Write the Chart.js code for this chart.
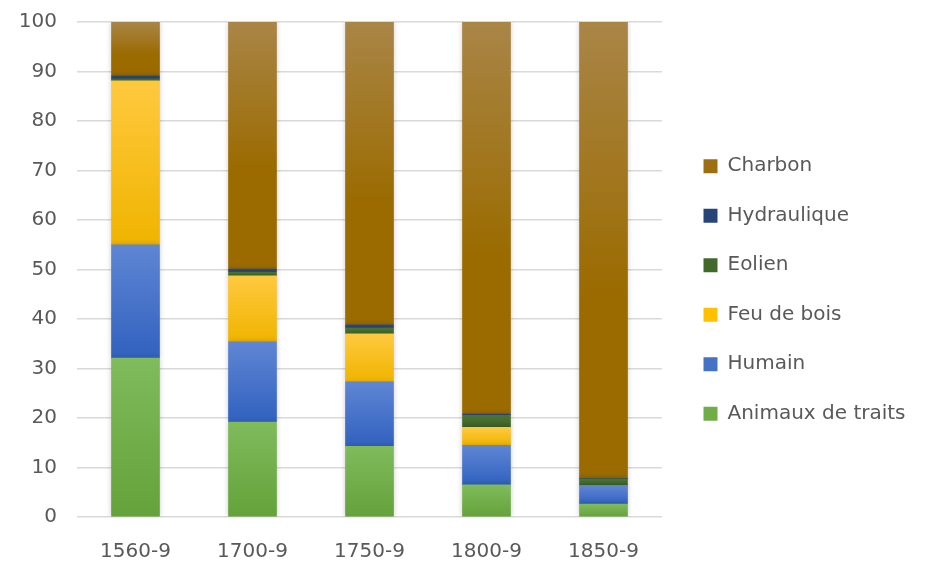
<!DOCTYPE html>
<html>
<head>
<meta charset="utf-8">
<script src="https://cdn.jsdelivr.net/npm/chart.js@4.4.0/dist/chart.umd.min.js"></script>
<style>
  body { margin: 0; background: #fff; }
</style>
</head>
<body>
<canvas id="chart" width="930" height="566"></canvas>
<script>
// Périodes et parts (%) de chaque source d'énergie
const categories = ["1560-9", "1700-9", "1750-9", "1800-9", "1850-9"];
const animaux = [32.1, 19.2, 14.3, 6.5, 2.6];
const humain = [22.9, 16.2, 13.0, 8.0, 3.7];
const feuDeBois = [33.1, 13.3, 9.7, 3.6, 0];
const eolien = [0.4, 0.8, 1.2, 2.4, 1.4];
const hydraulique = [0.7, 0.6, 0.6, 0.3, 0.1];
const charbon = [10.8, 49.9, 61.2, 79.2, 92.2];
const yTicks = [0, 10, 20, 30, 40, 50, 60, 70, 80, 90, 100];

const series = [
  { label: "Animaux de traits", data: animaux, top: "#80bb5c", bottom: "#64a23a", mid: "#70ad47", stop: 1 },
  { label: "Humain", data: humain, top: "#5f86d4", bottom: "#3161bf", mid: "#4472c4", stop: 1 },
  { label: "Feu de bois", data: feuDeBois, top: "#ffc93f", bottom: "#f0b400", mid: "#ffc000", stop: 1 },
  { label: "Eolien", data: eolien, top: "#4d7434", bottom: "#3b6124", mid: "#43682b", stop: 1 },
  { label: "Hydraulique", data: hydraulique, top: "#2f4f88", bottom: "#1f3c70", mid: "#264478", stop: 1 },
  { label: "Charbon", data: charbon, top: "#a98547", bottom: "#9b6b00", mid: "#9e6f10", stop: 0.6 }
];

// dégradé vertical par segment, comme dans Excel
function segmentGradient(ctx, idx) {
  const s = series[idx];
  const chart = ctx.chart;
  if (!chart.chartArea || ctx.dataIndex === undefined) return s.mid;
  let start = 0;
  for (let k = 0; k < idx; k++) start += series[k].data[ctx.dataIndex];
  const y = chart.scales.y;
  const y0 = y.getPixelForValue(start);
  const y1 = y.getPixelForValue(start + s.data[ctx.dataIndex]);
  if (Math.abs(y0 - y1) < 1) return s.mid;
  const g = chart.ctx.createLinearGradient(0, y1, 0, y0);
  g.addColorStop(0, s.top);
  g.addColorStop(s.stop, s.bottom);
  if (s.stop < 1) g.addColorStop(1, s.bottom);
  return g;
}

const datasets = series.map((s, i) => ({
  label: s.label,
  data: s.data,
  backgroundColor: ctx => segmentGradient(ctx, i),
  borderWidth: 0,
  barThickness: 48
}));

const font = "'DejaVu Sans', sans-serif";

// légende à largeur fixe, items décalés pour laisser un espace après le graphique
const legendPlace = {
  id: "legendPlace",
  beforeInit(chart) {
    const legend = chart.legend;
    const fit = legend.fit;
    legend.fit = function () {
      fit.call(this);
      this.width = 268;
    };
  },
  afterLayout(chart) {
    chart.legend.left += 12;
    chart.legend.top -= 4;
    chart.legend.bottom -= 4;
  }
};

// ombre légère autour des barres
const barShadow = {
  id: "barShadow",
  beforeDatasetsDraw(chart) {
    const c = chart.ctx;
    c.save();
    c.shadowColor = "rgba(0,0,0,0.2)";
    c.shadowBlur = 5;
  },
  afterDatasetsDraw(chart) {
    chart.ctx.restore();
  }
};

new Chart(document.getElementById("chart"), {
  type: "bar",
  data: { labels: categories, datasets: datasets },
  plugins: [legendPlace, barShadow],
  options: {
    responsive: false,
    animation: false,
    layout: { padding: { left: 0, top: 22, right: 0, bottom: 0 } },
    scales: {
      x: {
        stacked: true,
        grid: { display: false },
        border: { display: false },
        ticks: { color: "#595959", font: { family: font, size: 20 }, padding: 15 },
        afterFit: axis => { axis.height = 49; }
      },
      y: {
        stacked: true,
        min: 0,
        max: 100,
        afterBuildTicks: axis => { axis.ticks = yTicks.map(v => ({ value: v })); },
        grid: { color: "#d9d9d9", lineWidth: 1.5, drawTicks: false },
        border: { display: false },
        ticks: { color: "#595959", font: { family: font, size: 20 }, padding: 20 },
        afterFit: axis => {
          axis.width = 77;
          axis.paddingTop = 0;
          axis.paddingBottom = 0;
        }
      }
    },
    plugins: {
      tooltip: { enabled: false },
      legend: {
        position: "right",
        reverse: true,
        labels: {
          color: "#595959",
          font: { family: font, size: 20 },
          boxWidth: 14,
          boxHeight: 14,
          padding: 29.5,
          generateLabels: chart => {
            const items = Chart.defaults.plugins.legend.labels.generateLabels(chart);
            items.forEach(it => {
              it.fillStyle = series[it.datasetIndex].mid;
              it.lineWidth = 0;
              it.strokeStyle = "transparent";
            });
            return items;
          }
        }
      }
    }
  }
});
</script>
</body>
</html>
